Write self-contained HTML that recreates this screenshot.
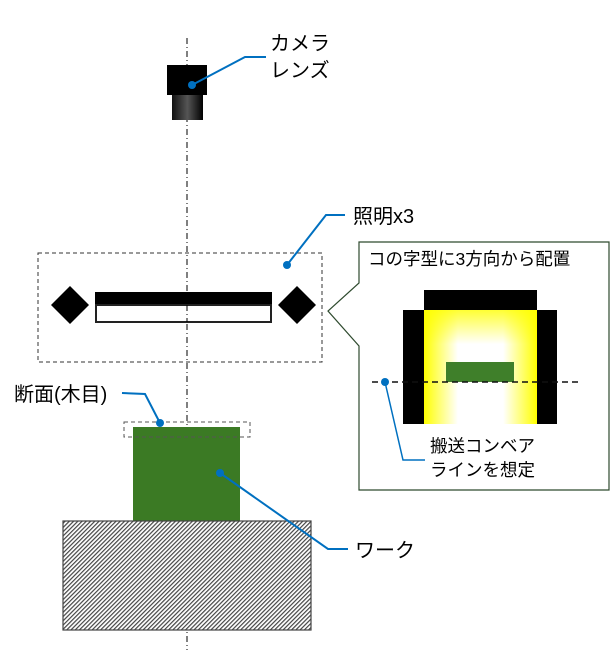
<!DOCTYPE html>
<html><head><meta charset="utf-8"><style>
html,body{margin:0;padding:0;background:#fff;width:614px;height:650px;overflow:hidden}
svg text{font-family:"Liberation Sans","Noto Sans CJK JP",sans-serif;font-size:20px;fill:#000}
</style></head><body>
<svg width="614" height="650" viewBox="0 0 614 650" xmlns="http://www.w3.org/2000/svg">
<defs>
<pattern id="h" width="3" height="3" patternUnits="userSpaceOnUse" patternTransform="rotate(45)">
<rect width="3" height="3" fill="#fff"/><rect width="1.2" height="3" fill="#444"/></pattern>
<linearGradient id="cg" x1="0" x2="1"><stop offset="0" stop-color="#111"/><stop offset="0.5" stop-color="#555"/><stop offset="1" stop-color="#000"/></linearGradient>
<linearGradient id="yh" x1="0" x2="1"><stop offset="0" stop-color="#ff0"/><stop offset="0.3" stop-color="#fff"/><stop offset="0.7" stop-color="#fff"/><stop offset="1" stop-color="#ff0"/></linearGradient>
<linearGradient id="yv" x1="0" y1="0" x2="0" y2="1"><stop offset="0" stop-color="#ff0" stop-opacity="0.8"/><stop offset="0.3" stop-color="#ff0" stop-opacity="0"/></linearGradient>
</defs>
<line x1="187" y1="38" x2="187" y2="650" stroke="#000" stroke-width="1" stroke-dasharray="6,3,1,3"/>
<rect x="167" y="65" width="40" height="30" fill="#000"/>
<rect x="172" y="95" width="31" height="25" fill="url(#cg)"/>
<polyline points="192,85 245,57 266,57" fill="none" stroke="#0070c0" stroke-width="2"/>
<circle cx="192" cy="85" r="4" fill="#0070c0"/>
<text x="270" y="50">カメラ</text>
<text x="270" y="77">レンズ</text>
<rect x="38" y="253" width="284" height="109" fill="none" stroke="#333" stroke-dasharray="4,3"/>
<polygon points="70,286 89,305 70,324 51,305" fill="#000"/>
<polygon points="297,286 316,305 297,324 278,305" fill="#000"/>
<rect x="95" y="292" width="177" height="13" fill="#000"/>
<rect x="96" y="305" width="175" height="17" fill="#fff" stroke="#222" stroke-width="2"/>
<line x1="187" y1="292" x2="187" y2="322" stroke="#000" stroke-width="1" stroke-dasharray="6,3,1,3"/>
<polyline points="287,265 326,215 345,215" fill="none" stroke="#0070c0" stroke-width="2"/>
<circle cx="287" cy="265" r="4" fill="#0070c0"/>
<text x="353" y="223">照明x3</text>
<path d="M359,242 H609 V490 H359 V346 L328,311 L359,283 Z" fill="#fff" stroke="#2e4a2e" stroke-width="1.2"/>
<text x="368" y="265" style="font-size:17.5px">コの字型に3方向から配置</text>
<rect x="424" y="310" width="113" height="114" fill="url(#yh)"/>
<rect x="424" y="310" width="113" height="114" fill="url(#yv)"/>
<rect x="424" y="290" width="113" height="20" fill="#000"/>
<rect x="403" y="310" width="21" height="114" fill="#000"/>
<rect x="537" y="310" width="20" height="114" fill="#000"/>
<rect x="446" y="362" width="68" height="20" fill="#3f7f2a"/>
<line x1="372" y1="382" x2="582" y2="382" stroke="#111" stroke-width="1.5" stroke-dasharray="6,4"/>
<polyline points="385,382 403,460 425,460" fill="none" stroke="#0070c0" stroke-width="1.5"/>
<circle cx="385" cy="382" r="4" fill="#0070c0"/>
<text x="430" y="452" style="font-size:17.5px">搬送コンベア</text>
<text x="430" y="476" style="font-size:17.5px">ラインを想定</text>
<rect x="133" y="427" width="107" height="94" fill="#3b7a24"/>
<rect x="124" y="422" width="126" height="15" fill="none" stroke="#555" stroke-dasharray="4,3"/>
<polyline points="122,393 145,394 160,423" fill="none" stroke="#0070c0" stroke-width="2"/>
<circle cx="160" cy="423" r="4" fill="#0070c0"/>
<text x="14" y="401">断面(木目)</text>
<rect x="63" y="521" width="248" height="109" fill="url(#h)" stroke="#444" stroke-width="1.2"/>
<polyline points="220,473 328,549 348,549" fill="none" stroke="#0070c0" stroke-width="2"/>
<circle cx="220" cy="473" r="4" fill="#0070c0"/>
<text x="355" y="557">ワーク</text>
</svg>
</body></html>
